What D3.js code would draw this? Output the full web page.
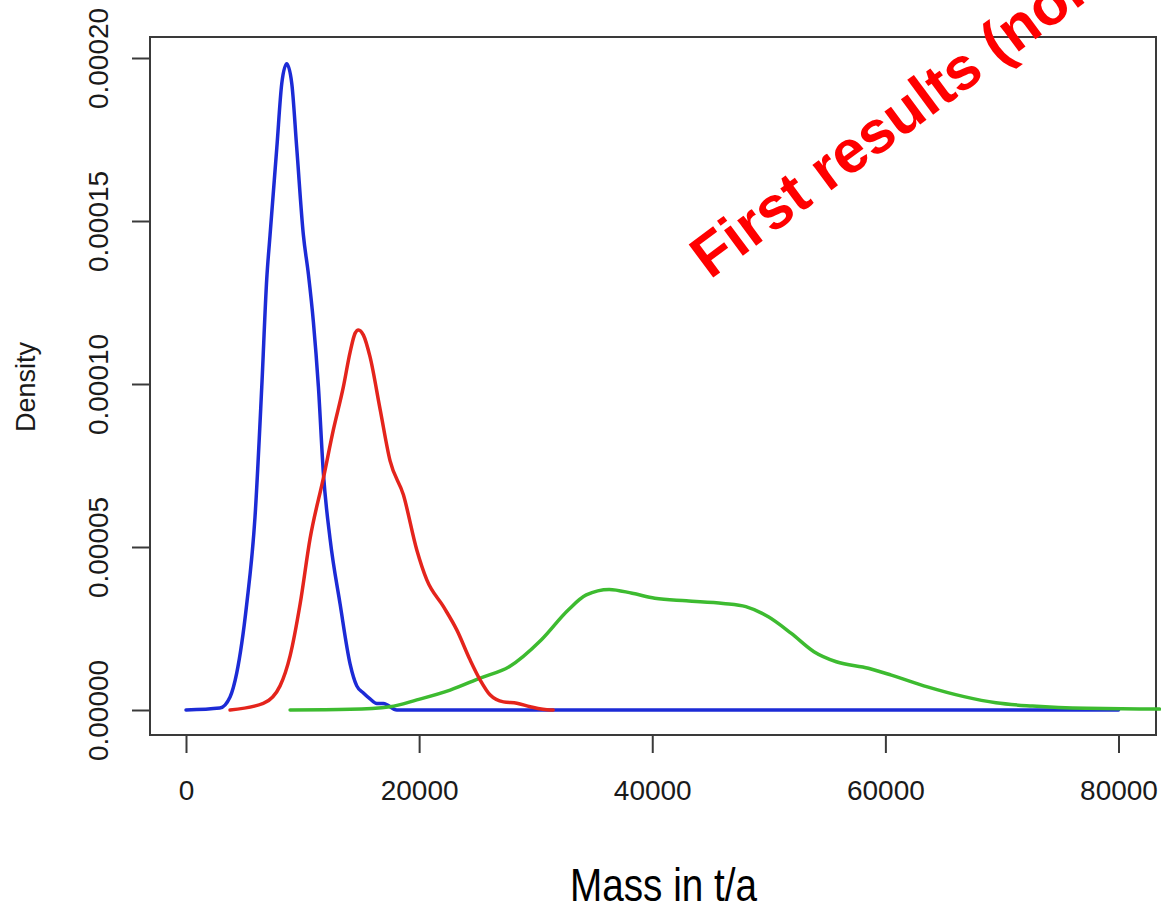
<!DOCTYPE html>
<html>
<head>
<meta charset="utf-8">
<script src="https://cdn.jsdelivr.net/npm/d3@7"></script>
<style>
  html, body { margin: 0; padding: 0; background: #fff; }
  svg { display: block; }
</style>
</head>
<body>
<svg id="chart" width="1161" height="907"></svg>
<script>
// ---- data ----
const seriesNames = ["blue", "red", "green"];

const blueMass = [0, 2900, 3780, 4350, 5210, 5920, 6500, 6930, 7210, 7790, 8220, 8640, 9070, 9500, 10070, 10500, 10930, 11360, 11790, 12360, 13220, 14080, 14650, 15220, 15790, 16370, 16940, 18090, 80000];
const blueDensity = [0, 0.0000006, 0.0000040, 0.0000113, 0.0000325, 0.0000592, 0.0000991, 0.0001324, 0.0001457, 0.0001724, 0.0001923, 0.0001982, 0.0001923, 0.0001724, 0.0001457, 0.0001337, 0.0001190, 0.0000991, 0.0000724, 0.0000525, 0.0000325, 0.0000141, 0.0000074, 0.0000052, 0.0000034, 0.0000020, 0.0000020, 0, 0];

const redMass = [3780, 6630, 8070, 8930, 9790, 10640, 11790, 12640, 13500, 14080, 14510, 14790, 15220, 15790, 16650, 17510, 18650, 19800, 20660, 22090, 23240, 24380, 25240, 26100, 27240, 28390, 29530, 31250, 31500];
const redDensity = [0, 0.0000020, 0.0000074, 0.0000166, 0.0000325, 0.0000525, 0.0000712, 0.0000859, 0.0000991, 0.0001098, 0.0001156, 0.0001166, 0.0001150, 0.0001083, 0.0000923, 0.0000764, 0.0000660, 0.0000491, 0.0000399, 0.0000317, 0.0000245, 0.0000153, 0.0000092, 0.0000046, 0.0000025, 0.0000021, 0.0000010, 0, 0];

const greenMass = [8930, 14080, 17510, 19800, 22660, 25240, 27730, 30470, 32790, 34340, 36310, 38280, 40220, 42920, 46090, 48030, 49960, 51930, 53870, 55790, 58540, 60520, 63610, 66750, 69490, 72620, 77250, 83520];
const greenDensity = [0, 0.0000002, 0.0000010, 0.0000031, 0.0000061, 0.0000098, 0.0000133, 0.0000215, 0.0000307, 0.0000353, 0.0000370, 0.0000358, 0.0000343, 0.0000335, 0.0000327, 0.0000317, 0.0000286, 0.0000235, 0.0000179, 0.0000148, 0.0000128, 0.0000107, 0.0000071, 0.0000041, 0.0000022, 0.0000012, 0.0000005, 0.0000003];

const xTicks = [0, 20000, 40000, 60000, 80000];
const yTicks = [0, 0.00005, 0.0001, 0.00015, 0.0002];
const xTitle = "Mass in t/a";
const yTitle = "Density";
const watermark = "First results (non-validated)";

// ---- drawing ----
const svg = d3.select("#chart");
const x = d3.scaleLinear().domain([0, 80000]).range([186, 1118.5]);
const y = d3.scaleLinear().domain([0, 0.0002]).range([710, 58]);

const axisColor = "#3a3a3a";
const textColor = "#1a1a1a";
const fontFamily = "'Liberation Sans', Arial, Helvetica, sans-serif";

// plot box
svg.append("rect")
  .attr("x", 150).attr("y", 37)
  .attr("width", 1156 - 150).attr("height", 735 - 37)
  .attr("fill", "none").attr("stroke", axisColor).attr("stroke-width", 2);

// y axis
const yAxis = svg.append("g")
  .attr("transform", "translate(150,0)")
  .call(d3.axisLeft(y).tickValues(yTicks).tickSize(18).tickFormat(d3.format(".5f")));
yAxis.select(".domain").remove();
yAxis.selectAll(".tick line").attr("stroke", axisColor).attr("stroke-width", 2);
yAxis.selectAll(".tick text")
  .attr("x", null).attr("dy", null)
  .attr("transform", "translate(-42,0) rotate(-90)")
  .attr("text-anchor", "middle")
  .attr("fill", textColor)
  .style("font-family", fontFamily)
  .style("font-size", "28px");

// x axis
const xAxis = svg.append("g")
  .attr("transform", "translate(0,735)")
  .call(d3.axisBottom(x).tickValues(xTicks).tickSize(18).tickFormat(d3.format("d")));
xAxis.select(".domain").remove();
xAxis.selectAll(".tick line").attr("stroke", axisColor).attr("stroke-width", 2);
xAxis.selectAll(".tick text")
  .attr("y", 65).attr("dy", null)
  .attr("fill", textColor)
  .style("font-family", fontFamily)
  .style("font-size", "28px");

// titles
svg.append("text")
  .attr("transform", "translate(35,387) rotate(-90)")
  .attr("text-anchor", "middle")
  .attr("fill", textColor)
  .style("font-family", fontFamily)
  .style("font-size", "27px")
  .text(yTitle);

svg.append("text")
  .attr("x", 570).attr("y", 901)
  .attr("textLength", 187)
  .attr("lengthAdjust", "spacingAndGlyphs")
  .attr("fill", "#000")
  .style("font-family", "'Liberation Sans Narrow', 'Liberation Sans', Arial, sans-serif")
  .style("font-size", "46px")
  .text(xTitle);

// curves
const line = d3.line()
  .x(d => x(d[0]))
  .y(d => y(d[1]))
  .curve(d3.curveMonotoneX);

const series = [
  { name: "blue", mass: blueMass, dens: blueDensity, color: "#1c2bd6" },
  { name: "green", mass: greenMass, dens: greenDensity, color: "#3dbb30" },
  { name: "red", mass: redMass, dens: redDensity, color: "#e4241c" }
];

svg.append("g").selectAll("path")
  .data(series)
  .join("path")
  .attr("d", s => line(d3.zip(s.mass, s.dens)))
  .attr("fill", "none")
  .attr("stroke", s => s.color)
  .attr("stroke-width", 3.5)
  .attr("stroke-linejoin", "round")
  .attr("stroke-linecap", "round");

// watermark
svg.append("text")
  .attr("transform", "translate(710,280) rotate(-36.5)")
  .attr("fill", "#ff0000")
  .style("font-family", fontFamily)
  .style("font-weight", "bold")
  .style("font-size", "60px")
  .text(watermark);
</script>
</body>
</html>
